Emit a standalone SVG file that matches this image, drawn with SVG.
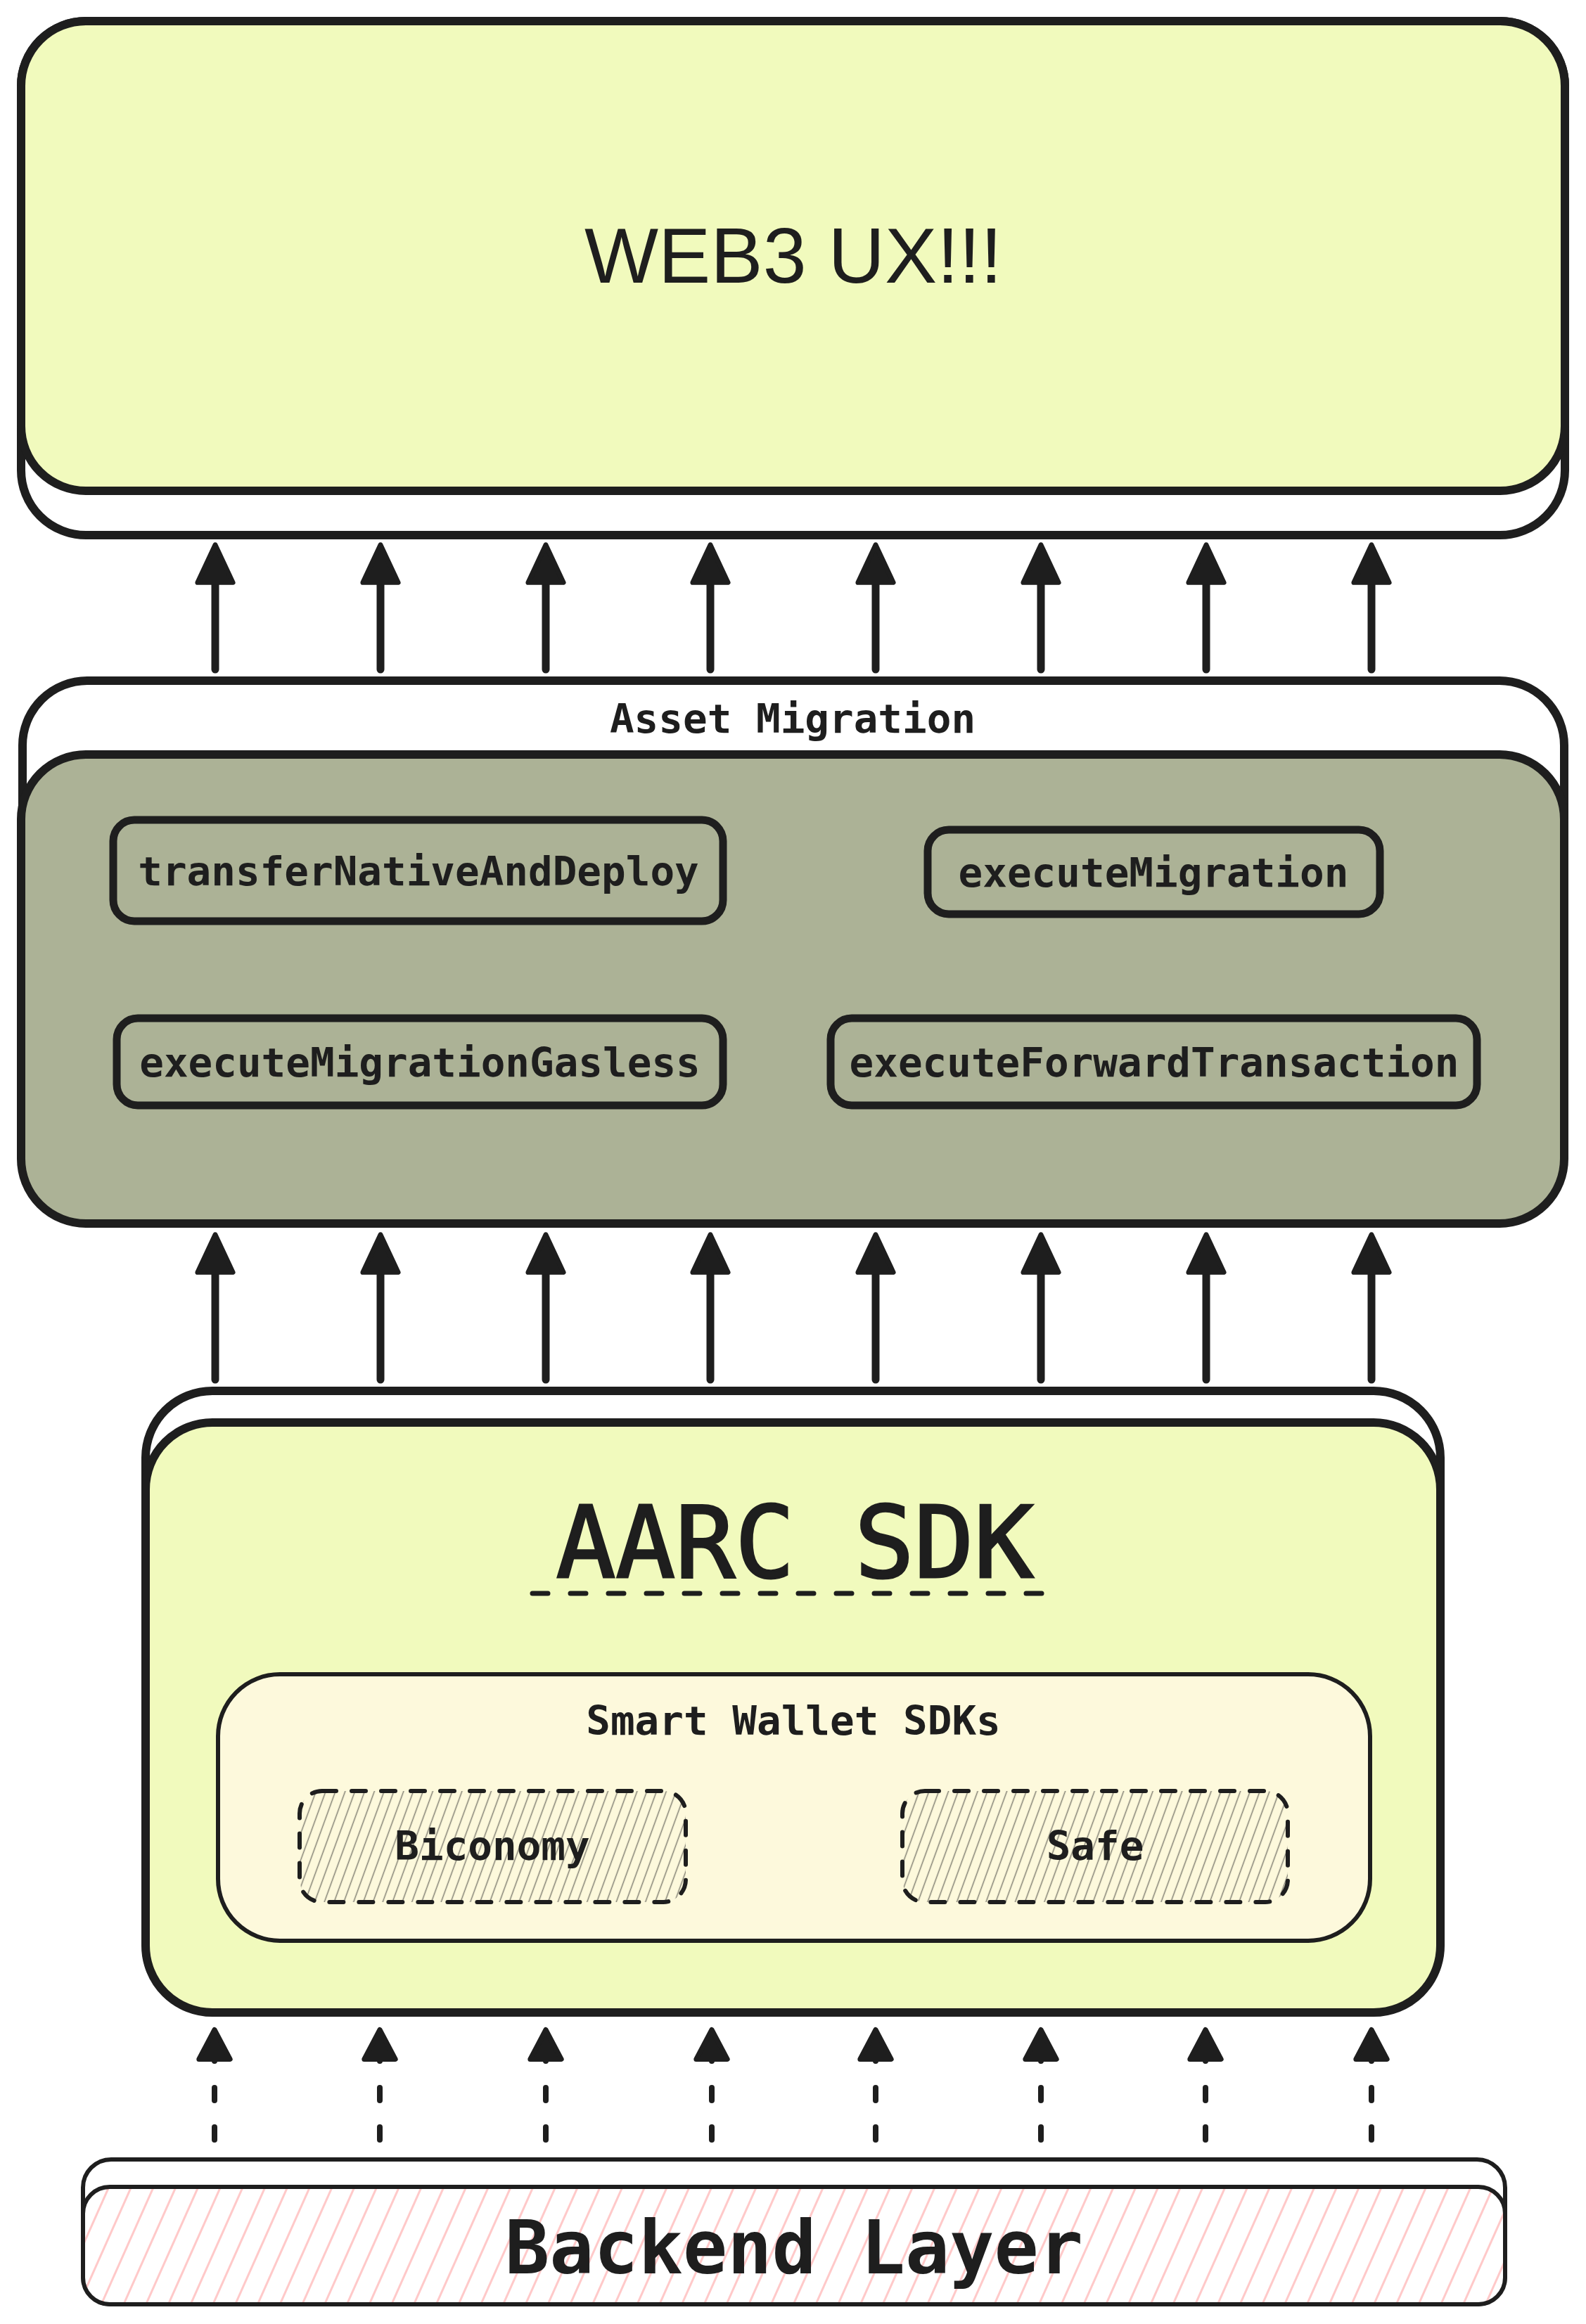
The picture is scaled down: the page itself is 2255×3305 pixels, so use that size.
<svg xmlns="http://www.w3.org/2000/svg" width="2255" height="3305" viewBox="0 0 2255 3305">
  <defs>
    <style>
      .ln{stroke:#1e1e1e;stroke-linejoin:round;stroke-linecap:round}
      .big{stroke-width:12}
      .node{stroke-width:11}
      .thin{stroke-width:6}
      .mono{font-family:"DejaVu Sans Mono","Liberation Mono",monospace;fill:#1e1e1e;text-anchor:middle}
      .lbl{font-size:57.6px;font-weight:bold}
      .arrow{fill:none;stroke:#1e1e1e;stroke-width:11;stroke-linecap:round}
      .darrow{fill:none;stroke:#1e1e1e;stroke-width:8;stroke-linecap:round;stroke-dasharray:18 38}
    </style>
    <marker id="ah" markerUnits="userSpaceOnUse" markerWidth="80" markerHeight="80" viewBox="-10 -35 70 70" refX="17" refY="0" orient="auto">
      <path d="M0,-22 L47,0 L0,22 Z" fill="#1e1e1e" stroke="#1e1e1e" stroke-width="6" stroke-linejoin="round"/>
    </marker>
    <marker id="ahs" markerUnits="userSpaceOnUse" markerWidth="70" markerHeight="70" viewBox="-10 -30 60 60" refX="9" refY="0" orient="auto">
      <path d="M0,-19 L36,0 L0,19 Z" fill="#1e1e1e" stroke="#1e1e1e" stroke-width="6" stroke-linejoin="round"/>
    </marker>
    <pattern id="hatchPink" patternUnits="userSpaceOnUse" width="29" height="29" patternTransform="rotate(24)">
      <line x1="14.5" y1="-1" x2="14.5" y2="30" stroke="#ffc9c9" stroke-width="3"/>
    </pattern>
    <pattern id="hatchDark" patternUnits="userSpaceOnUse" width="13" height="13" patternTransform="rotate(20)">
      <line x1="6.5" y1="-1" x2="6.5" y2="14" stroke="#1e1e1e" stroke-opacity="0.55" stroke-width="1.5"/>
    </pattern>
  </defs>

  <rect x="0" y="0" width="2255" height="3305" fill="#ffffff"/>

  <g id="web3-ux">
    <rect class="ln big" x="30" y="30" width="2195" height="731" rx="92" fill="#ffffff"/>
    <rect class="ln big" x="30" y="30" width="2195" height="668" rx="92" fill="#f1fabd"/>
    <text x="1128" y="402" font-family="'Liberation Sans','DejaVu Sans',sans-serif" font-size="112" fill="#1e1e1e" text-anchor="middle" textLength="594" lengthAdjust="spacingAndGlyphs">WEB3 UX!!!</text>
  </g>

  <g id="asset-migration">
    <rect class="ln big" x="32" y="968" width="2192" height="600" rx="92" fill="#ffffff"/>
    <rect class="ln big" x="30" y="1073" width="2194" height="667" rx="92" fill="#acb296"/>
    <text class="mono lbl" x="1127" y="1042">Asset Migration</text>
  </g>

  <g id="node-transferNativeAndDeploy">
    <rect class="ln node" x="161" y="1166" width="867" height="144" rx="30" fill="#acb296"/>
    <text class="mono lbl" x="595" y="1259">transferNativeAndDeploy</text>
  </g>
  <g id="node-executeMigration">
    <rect class="ln node" x="1319" y="1180" width="643" height="120" rx="30" fill="#acb296"/>
    <text class="mono lbl" x="1640" y="1261">executeMigration</text>
  </g>
  <g id="node-executeMigrationGasless">
    <rect class="ln node" x="166" y="1448" width="862" height="124" rx="30" fill="#acb296"/>
    <text class="mono lbl" x="597" y="1531">executeMigrationGasless</text>
  </g>
  <g id="node-executeForwardTransaction">
    <rect class="ln node" x="1181" y="1448" width="919" height="124" rx="30" fill="#acb296"/>
    <text class="mono lbl" x="1641" y="1531">executeForwardTransaction</text>
  </g>

  <g id="aarc-sdk">
    <rect class="ln big" x="207" y="1978" width="1841" height="500" rx="95" fill="#ffffff"/>
    <rect class="ln big" x="207" y="2023" width="1841" height="839" rx="95" fill="#f1fabd"/>
    <text class="mono" x="1130" y="2243" font-size="141" stroke="#1e1e1e" stroke-width="3">AARC SDK</text>
    <path d="M757,2266 L1481,2266" fill="none" stroke="#1e1e1e" stroke-width="7" stroke-linecap="round" stroke-dasharray="22 32"/>
  </g>

  <g id="smart-wallet-sdks">
    <rect class="ln thin" x="310" y="2381" width="1638" height="379" rx="88" fill="#fdf9dc"/>
    <text class="mono lbl" x="1128" y="2467">Smart Wallet SDKs</text>
  </g>
  <g id="node-biconomy">
    <rect class="ln thin" x="426" y="2547" width="549" height="158" rx="32" fill="url(#hatchDark)" stroke-dasharray="20 22"/>
    <text class="mono lbl" x="700" y="2645">Biconomy</text>
  </g>
  <g id="node-safe">
    <rect class="ln thin" x="1283" y="2547" width="548" height="158" rx="32" fill="url(#hatchDark)" stroke-dasharray="20 22"/>
    <text class="mono lbl" x="1557" y="2645">Safe</text>
  </g>

  <g id="backend-layer">
    <rect class="ln thin" x="118" y="3071" width="2022" height="206" rx="40" fill="#ffffff"/>
    <rect x="118" y="3110" width="2022" height="167" rx="38" fill="#ffffff"/>
    <rect class="ln thin" x="118" y="3110" width="2022" height="167" rx="38" fill="url(#hatchPink)"/>
    <text class="mono" x="1129" y="3233" font-size="105" font-weight="bold">Backend Layer</text>
  </g>

  <g id="connectors">
    <path class="arrow" marker-end="url(#ah)" d="M306,952 L306,809"/>
    <path class="arrow" marker-end="url(#ah)" d="M541,952 L541,809"/>
    <path class="arrow" marker-end="url(#ah)" d="M776,952 L776,809"/>
    <path class="arrow" marker-end="url(#ah)" d="M1010,952 L1010,809"/>
    <path class="arrow" marker-end="url(#ah)" d="M1245,952 L1245,809"/>
    <path class="arrow" marker-end="url(#ah)" d="M1480,952 L1480,809"/>
    <path class="arrow" marker-end="url(#ah)" d="M1715,952 L1715,809"/>
    <path class="arrow" marker-end="url(#ah)" d="M1950,952 L1950,809"/>

    <path class="arrow" marker-end="url(#ah)" d="M306,1962 L306,1790"/>
    <path class="arrow" marker-end="url(#ah)" d="M541,1962 L541,1790"/>
    <path class="arrow" marker-end="url(#ah)" d="M776,1962 L776,1790"/>
    <path class="arrow" marker-end="url(#ah)" d="M1010,1962 L1010,1790"/>
    <path class="arrow" marker-end="url(#ah)" d="M1245,1962 L1245,1790"/>
    <path class="arrow" marker-end="url(#ah)" d="M1480,1962 L1480,1790"/>
    <path class="arrow" marker-end="url(#ah)" d="M1715,1962 L1715,1790"/>
    <path class="arrow" marker-end="url(#ah)" d="M1950,1962 L1950,1790"/>

    <path class="darrow" marker-end="url(#ahs)" d="M305,3043 L305,2918"/>
    <path class="darrow" marker-end="url(#ahs)" d="M540,3043 L540,2918"/>
    <path class="darrow" marker-end="url(#ahs)" d="M776,3043 L776,2918"/>
    <path class="darrow" marker-end="url(#ahs)" d="M1012,3043 L1012,2918"/>
    <path class="darrow" marker-end="url(#ahs)" d="M1245,3043 L1245,2918"/>
    <path class="darrow" marker-end="url(#ahs)" d="M1480,3043 L1480,2918"/>
    <path class="darrow" marker-end="url(#ahs)" d="M1714,3043 L1714,2918"/>
    <path class="darrow" marker-end="url(#ahs)" d="M1950,3043 L1950,2918"/>
  </g>
</svg>
